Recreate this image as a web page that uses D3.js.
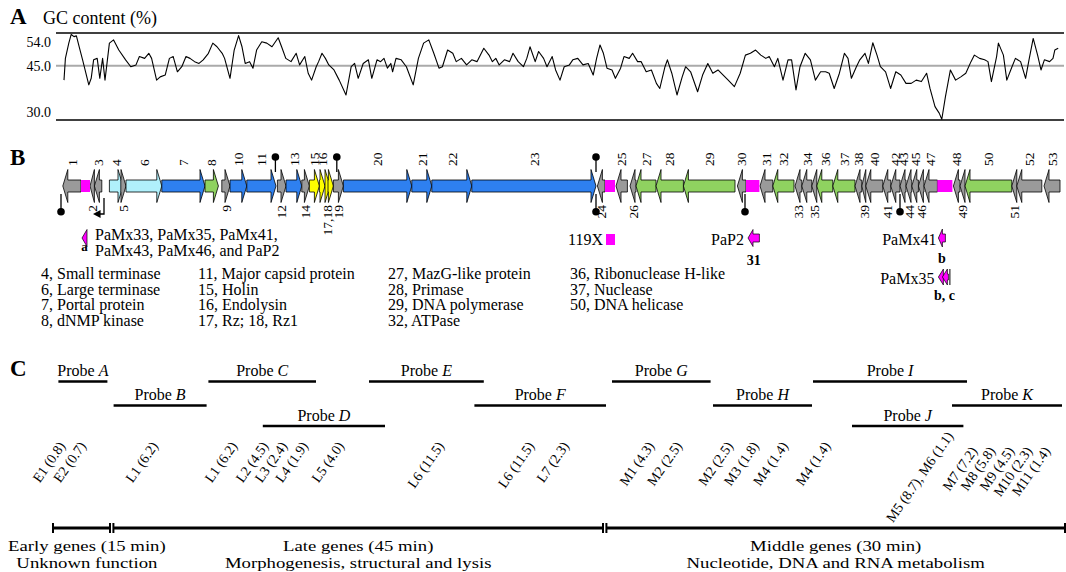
<!DOCTYPE html>
<html>
<head>
<meta charset="utf-8">
<script src="https://cdn.jsdelivr.net/npm/d3@7"></script>
<style>
  body { margin: 0; background: #fff; }
  svg { display: block; font-family: "Liberation Serif", "Times New Roman", serif; }
</style>
</head>
<body>
<div id="chart"></div>
<script>
// ---- Panel A: GC content, [genome position (kb), GC %] ----
const gcPoints = [
  [0.10,41.0],[0.17,47.0],[0.34,51.2],[0.46,53.6],[0.60,53.0],[0.72,53.2],[0.86,50.2],[1.03,46.6],
  [1.34,39.7],[1.46,41.5],[1.58,46.6],[1.76,47.0],[1.89,41.5],[2.03,47.0],[2.15,41.0],[2.37,51.2],
  [2.58,52.1],[2.84,49.3],[3.18,46.6],[3.44,44.7],[3.70,45.2],[3.87,47.5],[4.13,47.0],[4.34,48.4],
  [4.48,47.0],[4.73,41.0],[4.91,41.9],[5.16,42.4],[5.37,47.0],[5.56,47.5],[5.77,43.3],[5.99,44.7],
  [6.20,47.5],[6.40,47.0],[6.63,46.1],[6.85,45.6],[7.06,46.6],[7.32,48.4],[7.54,51.2],[7.75,50.2],
  [8.01,48.4],[8.13,47.0],[8.40,41.5],[8.61,49.3],[8.83,53.3],[9.00,50.2],[9.16,45.6],[9.38,46.1],
  [9.55,44.3],[9.73,49.3],[9.99,51.6],[10.24,51.2],[10.50,50.2],[10.81,52.7],[10.98,50.2],[11.19,47.0],
  [11.45,46.1],[11.71,48.4],[11.88,45.2],[12.14,47.5],[12.31,42.9],[12.48,41.0],[12.71,44.7],[12.83,46.1],
  [13.00,48.4],[13.17,47.0],[13.34,45.2],[13.60,43.8],[13.86,41.0],[14.20,36.9],[14.46,44.7],[14.63,45.6],
  [14.81,41.5],[15.06,45.6],[15.32,46.6],[15.49,41.5],[15.75,46.6],[15.93,46.1],[16.10,47.0],[16.27,44.3],
  [16.44,45.6],[16.53,43.3],[16.70,47.0],[16.96,46.6],[17.22,44.7],[17.56,39.7],[17.82,47.0],[18.08,51.2],
  [18.34,52.1],[18.59,48.4],[18.85,44.3],[19.02,44.7],[19.28,49.3],[19.54,48.4],[19.71,46.1],[19.97,47.0],
  [20.23,45.2],[20.49,46.6],[20.75,46.1],[21.09,49.8],[21.35,47.9],[21.52,46.1],[21.69,47.0],[21.86,45.2],
  [22.12,46.6],[22.38,46.1],[22.55,48.4],[22.81,46.1],[23.07,44.7],[23.24,47.0],[23.40,50.2],[23.66,46.1],
  [23.83,48.9],[24.08,47.0],[24.25,44.7],[24.51,47.5],[24.68,43.8],[24.90,41.0],[25.11,44.7],[25.37,45.2],
  [25.54,46.6],[25.79,47.0],[26.05,45.2],[26.31,45.6],[26.56,42.4],[26.73,47.0],[26.90,50.7],[27.07,48.4],
  [27.25,44.3],[27.50,43.8],[27.67,41.5],[27.93,44.3],[28.10,47.5],[28.36,47.0],[28.53,48.4],[28.78,46.1],
  [28.96,46.1],[29.21,43.3],[29.47,43.8],[29.72,40.1],[29.89,38.7],[30.15,44.7],[30.27,46.6],[30.49,42.9],
  [30.75,36.9],[31.01,41.9],[31.18,44.7],[31.43,43.3],[31.78,37.8],[32.03,42.4],[32.29,45.6],[32.54,42.9],
  [32.80,43.8],[33.06,42.4],[33.31,41.0],[33.62,39.2],[33.91,42.9],[34.17,47.9],[34.42,48.4],[34.68,49.3],
  [34.94,47.9],[35.19,47.0],[35.36,47.5],[35.62,44.7],[35.79,47.0],[36.05,41.0],[36.30,46.6],[36.48,46.6],
  [36.70,38.3],[36.90,44.7],[37.16,48.4],[37.42,46.6],[37.67,41.0],[37.93,43.3],[38.18,43.3],[38.36,42.9],
  [38.61,38.7],[38.87,42.9],[39.12,48.4],[39.30,47.0],[39.47,41.5],[39.72,44.7],[39.89,46.6],[40.15,48.4],
  [40.32,45.6],[40.54,51.3],[40.75,47.9],[40.92,44.7],[41.18,43.3],[41.43,38.7],[41.69,43.3],[41.94,42.4],
  [42.20,40.1],[42.46,40.1],[42.71,41.0],[42.97,40.6],[43.23,42.9],[43.40,38.7],[43.65,33.7],[43.86,31.9],
  [43.99,30.2],[44.17,36.4],[44.42,43.8],[44.68,41.0],[44.94,41.9],[45.19,42.9],[45.45,46.1],[45.62,47.9],
  [45.88,47.0],[46.13,46.6],[46.30,46.1],[46.47,40.6],[46.73,47.5],[46.82,51.2],[47.07,47.9],[47.24,41.0],
  [47.50,44.7],[47.67,47.0],[47.93,46.1],[48.18,41.5],[48.35,46.6],[48.56,52.5],[48.78,47.9],[48.95,43.8],
  [49.12,46.6],[49.38,46.1],[49.55,47.0],[49.64,49.3],[49.81,49.8]
];
const gcTicks = [54, 45, 30];
const gcMid = 45;

// ---- Panel B: genes [label, start kb, end kb, strand, class, label side] ----
const genes = [
  ["1",0.04,0.95,-1,"other","up"],   ["2",1.40,1.62,-1,"other","down"], ["3",1.62,1.99,-1,"other","up"],
  ["4",2.37,3.05,1,"terminase","up"], ["5",2.94,3.20,1,"other","down"], ["6",3.20,4.99,1,"terminase","up"],
  ["7",4.99,7.15,1,"structure","up"], ["8",7.15,7.82,1,"metabolism","up"], ["9",7.99,8.40,1,"other","down"],
  ["10",8.40,9.24,1,"structure","up"], ["11",9.24,10.70,1,"structure","up"], ["12",10.77,11.20,1,"other","down"],
  ["13",11.20,11.99,1,"structure","up"], ["14",11.99,12.37,1,"other","down"], ["15",12.37,12.87,1,"lysis","up"],
  ["16",12.87,13.15,1,"lysis","up"], ["17,18",13.15,13.40,1,"lysis","down"], ["",13.30,13.57,1,"lysis","up"],
  ["19",13.57,14.07,1,"other","down"], ["20",14.07,17.49,1,"structure","up"], ["21",17.49,18.49,1,"structure","up"],
  ["22",18.49,20.49,1,"structure","up"], ["23",20.49,26.70,1,"structure","up"], ["24",26.77,27.15,-1,"other","down"],
  ["25",27.70,28.27,-1,"other","up"], ["26",28.40,28.70,-1,"other","down"], ["27",28.70,29.70,-1,"metabolism","up"],
  ["28",29.70,31.07,-1,"metabolism","up"], ["29",31.07,33.65,-1,"metabolism","up"], ["30",33.77,34.20,-1,"other","up"],
  ["31",34.90,35.54,-1,"other","up"], ["32",35.54,36.60,-1,"metabolism","up"], ["33",36.65,36.99,-1,"other","down"],
  ["34",36.99,37.49,-1,"other","up"], ["35",37.49,37.74,-1,"other","down"], ["36",37.74,38.54,-1,"metabolism","up"],
  ["37",38.54,39.65,-1,"metabolism","up"], ["38",39.65,39.99,-1,"other","up"], ["39",39.99,40.19,-1,"other","down"],
  ["40",40.19,41.04,-1,"other","up"], ["41",41.04,41.44,-1,"other","down"], ["42",41.44,41.90,-1,"other","up"],
  ["43",41.90,42.20,-1,"other","up"], ["44",42.20,42.49,-1,"other","down"], ["45",42.49,42.82,-1,"other","up"],
  ["46",42.82,43.10,-1,"other","down"], ["47",43.10,43.77,-1,"other","up"], ["48",44.57,44.90,-1,"other","up"],
  ["49",44.90,45.15,-1,"other","down"], ["50",45.15,47.49,-1,"metabolism","up"], ["51",47.49,47.74,-1,"other","down"],
  ["52",47.74,48.99,-1,"other","up"], ["53",49.10,49.90,-1,"other","up"]
];
const geneColors = { other: "#9a9a9a", terminase: "#b0f0fb", structure: "#2e80f0", metabolism: "#8fd260", lysis: "#ffff00" };

// magenta elements [start kb, end kb] and the homologs listed under them
const hotspots = [[0.95,1.40],[27.15,27.65],[34.20,34.87],[43.77,44.52]];
const terminatorsAbove = [10.67, 13.74, 26.70];
const terminatorsBelow = [-0.05, 26.70, 34.15, 41.90];
const promoterSites = [2.10];

const functionCols = [
  ["4, Small terminase", "6, Large terminase", "7, Portal protein", "8, dNMP kinase"],
  ["11, Major capsid protein", "15, Holin", "16, Endolysin", "17, Rz; 18, Rz1"],
  ["27, MazG-like protein", "28, Primase", "29, DNA polymerase", "32, ATPase"],
  ["36, Ribonuclease H-like", "37, Nuclease", "50, DNA helicase"]
];

// ---- Panel C: probes [letter, start kb, end kb, row] ----
const probes = [
  ["A",-0.18,2.27,0], ["B",2.58,7.23,1], ["C",7.32,12.70,0], ["D",10.04,16.15,2],
  ["E",15.35,21.09,0], ["F",20.62,27.20,1], ["G",27.50,32.43,0], ["H",32.55,37.50,1],
  ["I",37.55,45.25,0], ["J",39.50,45.07,2], ["K",44.50,50.00,1]
];
// transcripts [label, position kb, tier]
const transcripts = [
  ["E1 (0.8)",0.20,0], ["E2 (0.7)",1.23,0], ["L1 (6.2)",4.84,0], ["L1 (6.2)",8.80,0],
  ["L2 (4.5)",10.35,0], ["L3 (2.4)",11.30,0], ["L4 (1.9)",12.33,0], ["L5 (4.0)",14.14,0],
  ["L6 (11.5)",19.13,0], ["L6 (11.5)",23.65,0], ["L7 (2.3)",25.39,0], ["M1 (4.3)",29.65,0],
  ["M2 (2.5)",31.03,0], ["M2 (2.5)",33.59,0], ["M3 (1.8)",34.87,0], ["M4 (1.4)",36.33,0],
  ["M4 (1.4)",38.46,0], ["M5 (8.7), M6 (1.1)",44.60,-2], ["M7 (7.2)",45.80,1], ["M8 (5.8)",46.70,1],
  ["M9 (4.5)",47.65,1], ["M10 (2.3)",48.55,1], ["M11 (1.4)",49.45,1]
];
// phases [line 1, line 2, start kb, end kb]
const phases = [
  ["Early genes (15 min)", "Unknown function", -0.45, 2.40],
  ["Late genes (45 min)", "Morphogenesis, structural and lysis", 2.57, 27.05],
  ["Middle genes (30 min)", "Nucleotide, DNA and RNA metabolism", 27.22, 50.15]
];

const W = 1066, H = 572;
const svg = d3.select("#chart").append("svg").attr("width", W).attr("height", H);
const x = d3.scaleLinear().domain([0, 50]).range([62, 1062]);

function panelLetter(t, yy) {
  svg.append("text").attr("x", 10).attr("y", yy).attr("font-size", 23)
    .attr("font-weight", "bold").text(t);
}

// ---------- A ----------
panelLetter("A", 24);
svg.append("text").attr("x", 43).attr("y", 24).attr("font-size", 18).text("GC content (%)");

const y = d3.scaleLinear().domain([30, 54]).range([120, 33]);
const lineX0 = x(-0.3), lineX1 = x(50.1);
svg.selectAll("line.gc-grid")
  .data(gcTicks)
  .enter().append("line")
  .attr("class", "gc-grid")
  .attr("x1", lineX0).attr("x2", lineX1)
  .attr("y1", d => y(d)).attr("y2", d => y(d))
  .attr("stroke", d => d === gcMid ? "#aaaaaa" : "#000")
  .attr("stroke-width", d => d === gcMid ? 2 : 1.6);

svg.selectAll("text.gc-tick")
  .data(gcTicks)
  .enter().append("text")
  .attr("class", "gc-tick")
  .attr("x", 51)
  .attr("y", d => Math.min(Math.max(y(d), y(54) + 9), y(30) - 8))
  .attr("dy", "0.35em")
  .attr("text-anchor", "end")
  .attr("font-size", 14)
  .text(d => d.toFixed(1));

svg.append("path")
  .datum(gcPoints)
  .attr("fill", "none")
  .attr("stroke", "#000")
  .attr("stroke-width", 1.1)
  .attr("stroke-linejoin", "round")
  .attr("d", d3.line().x(d => x(d[0])).y(d => y(d[1])));

// ---------- B ----------
panelLetter("B", 165);
const cy = 186, bodyH = 6, headH = 16.5, headL = 5;

function arrowPath(x0, x1, dir, c, b, hh, hl) {
  if (dir > 0) {
    const hb = Math.max(x0, x1 - hl);
    if (hb <= x0) return `M${x0},${c - hh}L${x1},${c}L${x0},${c + hh}Z`;
    return `M${x0},${c - b}L${hb},${c - b}L${hb},${c - hh}L${x1},${c}L${hb},${c + hh}L${hb},${c + b}L${x0},${c + b}Z`;
  }
  const hb = Math.min(x1, x0 + hl);
  if (hb >= x1) return `M${x1},${c - hh}L${x0},${c}L${x1},${c + hh}Z`;
  return `M${x1},${c - b}L${hb},${c - b}L${hb},${c - hh}L${x0},${c}L${hb},${c + hh}L${hb},${c + b}L${x1},${c + b}Z`;
}

const geneG = svg.append("g");
geneG.selectAll("path.gene")
  .data(genes)
  .enter().append("path")
  .attr("class", "gene")
  .attr("d", d => arrowPath(x(d[1]), x(d[2]), d[3], cy, bodyH, headH, headL))
  .attr("fill", d => geneColors[d[4]])
  .attr("stroke", "#000")
  .attr("stroke-width", 0.8)
  .attr("stroke-linejoin", "miter");

geneG.selectAll("rect.hot")
  .data(hotspots)
  .enter().append("rect")
  .attr("x", d => x(d[0])).attr("width", d => x(d[1]) - x(d[0]))
  .attr("y", cy - bodyH).attr("height", bodyH * 2)
  .attr("fill", "#ff00ff");

geneG.selectAll("text.glabel")
  .data(genes.filter(d => d[0] !== ""))
  .enter().append("text")
  .attr("transform", d => `translate(${x((d[1] + d[2]) / 2)},${d[5] === "up" ? 166 : 205}) rotate(-90)`)
  .attr("text-anchor", d => d[5] === "up" ? "start" : "end")
  .attr("dy", "0.35em")
  .attr("font-size", 13.5)
  .text(d => d[0]);

// terminators
function lollipops(data, y0, y1) {
  const g = svg.append("g");
  g.selectAll("line").data(data).enter().append("line")
    .attr("x1", d => x(d)).attr("x2", d => x(d))
    .attr("y1", y0).attr("y2", y1)
    .attr("stroke", "#000").attr("stroke-width", 1.3);
  g.selectAll("circle").data(data).enter().append("circle")
    .attr("cx", d => x(d)).attr("cy", y1).attr("r", 3.8).attr("fill", "#000");
}
lollipops(terminatorsAbove, 172, 157);
lollipops(terminatorsBelow, 194, 211.7);

// promoter
svg.append("defs").append("marker")
  .attr("id", "ah").attr("viewBox", "0 0 10 10").attr("refX", 2).attr("refY", 5)
  .attr("markerWidth", 6).attr("markerHeight", 6).attr("orient", "auto")
  .append("path").attr("d", "M0,0L10,5L0,10Z").attr("fill", "#000");
svg.selectAll("path.prom").data(promoterSites).enter().append("path")
  .attr("d", d => `M${x(d)},198V214H${x(d) - 5}`)
  .attr("fill", "none").attr("stroke", "#000").attr("stroke-width", 1.3)
  .attr("marker-end", "url(#ah)");

// homolog icons under magenta elements
const mag = "#ff00ff";
function icon(path) {
  svg.append("path").attr("d", path).attr("fill", mag).attr("stroke", "#000").attr("stroke-width", 0.7);
}
// a
{
  const s = x(hotspots[0][0]) + 1;
  icon(arrowPath(s, s + 5, -1, 238, 3, 8.5, 6));
  svg.append("text").attr("x", s + 2.5).attr("y", 251).attr("text-anchor", "middle")
    .attr("font-size", 13).attr("font-weight", "bold").text("a");
  svg.append("text").attr("x", 95).attr("y", 240).attr("font-size", 16).text("PaMx33, PaMx35, PaMx41,");
  svg.append("text").attr("x", 95).attr("y", 256).attr("font-size", 16).text("PaMx43, PaMx46, and PaP2");
}
// 119X
{
  const s = x(hotspots[1][0]), e = x(hotspots[1][1]);
  svg.append("rect").attr("x", s + 1).attr("y", 234).attr("width", e - s - 1).attr("height", 11).attr("fill", mag);
  svg.append("text").attr("x", s - 2).attr("y", 245).attr("text-anchor", "end").attr("font-size", 16).text("119X");
}
// PaP2
{
  const s = x(hotspots[2][0]) + 2, e = x(hotspots[2][1]);
  icon(arrowPath(s, e, -1, 238, 4, 8.5, 5));
  svg.append("text").attr("x", s - 4).attr("y", 245).attr("text-anchor", "end").attr("font-size", 16).text("PaP2");
  svg.append("text").attr("x", (s + e) / 2).attr("y", 265).attr("text-anchor", "middle")
    .attr("font-size", 14).attr("font-weight", "bold").text("31");
}
// PaMx41 and PaMx35
{
  const s = x(hotspots[3][0]) + 1;
  icon(arrowPath(s, s + 7, -1, 238, 4, 9, 4));
  svg.append("text").attr("x", s - 2).attr("y", 245).attr("text-anchor", "end").attr("font-size", 16).text("PaMx41");
  svg.append("text").attr("x", s + 3.5).attr("y", 263).attr("text-anchor", "middle")
    .attr("font-size", 14).attr("font-weight", "bold").text("b");
  icon(arrowPath(s, s + 5, -1, 277, 3, 8, 5));
  icon(arrowPath(s + 4, s + 10, -1, 277, 3, 8, 5));
  svg.append("path").attr("d", `M${s + 11.5},269V285`).attr("stroke", "#000").attr("stroke-width", 1);
  svg.append("text").attr("x", s - 4).attr("y", 284).attr("text-anchor", "end").attr("font-size", 16).text("PaMx35");
  svg.append("text").attr("x", s + 6).attr("y", 300).attr("text-anchor", "middle")
    .attr("font-size", 14).attr("font-weight", "bold").text("b, c");
}

// gene function key
const colX = [41, 198, 388, 570];
functionCols.forEach((col, ci) => {
  svg.selectAll(null).data(col).enter().append("text")
    .attr("x", colX[ci]).attr("y", (d, i) => 279 + i * 15.7)
    .attr("font-size", 16).text(d => d);
});

// ---------- C ----------
panelLetter("C", 376);
const rowY = [381.5, 405.5, 426];
const probeG = svg.append("g");
probeG.selectAll("line").data(probes).enter().append("line")
  .attr("x1", d => x(d[1])).attr("x2", d => x(d[2]))
  .attr("y1", d => rowY[d[3]]).attr("y2", d => rowY[d[3]])
  .attr("stroke", "#000").attr("stroke-width", 2.5);
const pl = probeG.selectAll("text").data(probes).enter().append("text")
  .attr("x", d => x((d[1] + d[2]) / 2)).attr("y", d => rowY[d[3]] - 5.5)
  .attr("text-anchor", "middle").attr("font-size", 16);
pl.append("tspan").text("Probe ");
pl.append("tspan").attr("font-style", "italic").text(d => d[0]);

svg.selectAll("text.tr").data(transcripts).enter().append("text")
  .attr("class", "tr")
  .attr("transform", d => `translate(${x(d[1])},${446 + d[2] * 5}) rotate(-55)`)
  .attr("text-anchor", "end")
  .attr("font-size", 14)
  .text(d => d[0]);

// phase timeline
const tlY = 528, stretch = 1.25, phaseFont = 15;
const phaseG = svg.append("g");
phases.forEach(p => {
  const a = x(p[2]), b = x(p[3]);
  phaseG.append("line").attr("x1", a).attr("x2", b).attr("y1", tlY).attr("y2", tlY)
    .attr("stroke", "#000").attr("stroke-width", 3);
  [a, b].forEach(v => phaseG.append("line").attr("x1", v).attr("x2", v)
    .attr("y1", tlY - 5).attr("y2", tlY + 5).attr("stroke", "#000").attr("stroke-width", 2));
  const t1 = phaseG.append("text").attr("text-anchor", "middle").attr("font-size", phaseFont).text(p[0]);
  const t2 = phaseG.append("text").attr("text-anchor", "middle").attr("font-size", phaseFont).text(p[1]);
  const half = stretch * Math.max(t1.node().getComputedTextLength(), t2.node().getComputedTextLength()) / 2;
  const cx = Math.max((a + b) / 2, 8 + half);
  t1.attr("transform", `translate(${cx},551) scale(${stretch},1)`);
  t2.attr("transform", `translate(${cx},568) scale(${stretch},1)`);
});
</script>
</body>
</html>
